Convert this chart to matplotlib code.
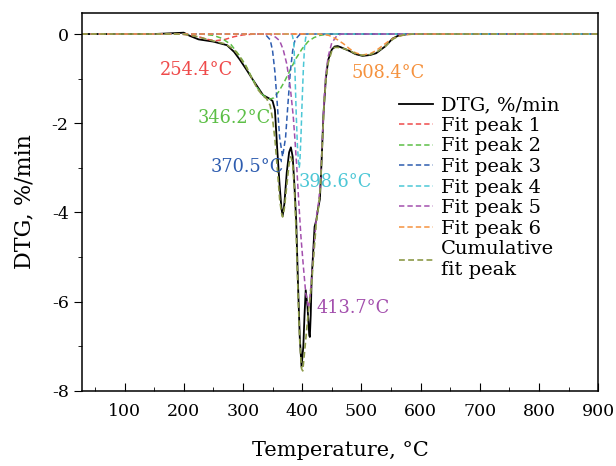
import numpy as np
import matplotlib.pyplot as plt
from matplotlib.ticker import MultipleLocator

plt.rcParams['font.family'] = ['DejaVu Serif']
plt.rcParams['axes.unicode_minus'] = False

# DTG curve (temperature, %/min)
dtg_t = [28, 100, 150, 185, 200, 210, 225, 250, 273, 285, 295, 306, 317, 334, 345, 350,
         354, 358, 362, 365, 367, 370, 374, 378, 381, 384, 387, 390, 393, 396, 399, 402,
         404, 406, 409, 412, 413, 414.5, 416, 419, 421, 424, 427, 430, 433, 436, 440, 444,
         450, 455, 460, 466, 480, 490, 502, 515, 525, 540, 553, 562, 570, 580, 900]
dtg_y = [0, 0, 0, 0.02, 0.03, -0.04, -0.12, -0.17, -0.25, -0.4, -0.58, -0.8, -1.03, -1.37, -1.45, -1.5,
         -1.7, -2.6, -3.4, -3.9, -4.08, -3.8, -3.1, -2.65, -2.54, -2.75, -3.4, -4.2, -5.6, -6.8, -7.46, -7.0,
         -6.3, -5.74, -6.1, -6.75, -6.79, -6.3, -5.5, -4.8, -4.32, -4.17, -3.9, -3.7, -2.8, -1.8, -1.0, -0.58,
         -0.35, -0.28, -0.27, -0.3, -0.38, -0.45, -0.49, -0.47, -0.43, -0.28, -0.1, -0.04, -0.02, 0, 0]

# fitted peaks
p1_t = [28, 190, 210, 225, 240, 254, 270, 285, 300, 320, 900]
p1_y = [0, 0, -0.02, -0.06, -0.12, -0.15, -0.12, -0.06, -0.02, 0, 0]

p2_t = [28, 230, 250, 265, 280, 295, 305, 317, 325, 334, 340, 346, 352, 360, 370, 380,
        390, 400, 410, 420, 430, 445, 900]
p2_y = [0, 0, -0.03, -0.1, -0.24, -0.5, -0.71, -1.03, -1.22, -1.37, -1.43, -1.46, -1.43, -1.3, -1.07, -0.8,
        -0.54, -0.33, -0.17, -0.08, -0.03, 0, 0]

p3_t = [28, 330, 338, 346, 350, 354, 358, 362, 367, 372, 376, 380, 384, 388, 396, 405, 900]
p3_y = [0, 0, -0.01, -0.13, -0.37, -0.85, -1.57, -2.32, -2.75, -2.32, -1.57, -0.85, -0.37, -0.13, -0.01, 0, 0]

p4_t = [28, 383, 386, 388, 390, 392, 394, 395, 396, 398, 400, 402, 404, 406, 409, 900]
p4_y = [0, 0, -0.2, -0.9, -1.8, -2.5, -2.9, -3.0, -2.9, -2.3, -1.5, -0.8, -0.3, -0.08, 0, 0]

p5_t = [28, 345, 355, 362, 368, 374, 380, 385, 388, 391, 394, 398, 402, 406, 411, 416,
        420, 424, 428, 431, 434, 437, 440, 444, 450, 458, 466, 900]
p5_y = [0, 0, -0.07, -0.15, -0.35, -0.67, -1.2, -1.85, -2.4, -3.0, -3.7, -4.55, -5.2, -5.8, -6.15, -5.5,
        -4.8, -4.1, -3.75, -3.3, -2.4, -1.5, -0.9, -0.5, -0.2, -0.05, 0, 0]

p6_t = [28, 430, 445, 450, 460, 470, 480, 490, 502, 515, 525, 535, 545, 555, 565, 580, 590, 900]
p6_y = [0, 0, -0.03, -0.06, -0.13, -0.22, -0.33, -0.42, -0.47, -0.44, -0.37, -0.27, -0.17, -0.09, -0.04, -0.01, 0, 0]

cum_t = [28, 180, 200, 220, 240, 254, 270, 285, 295, 306, 317, 325, 334, 340, 346, 350,
         354, 358, 362, 365, 367, 370, 374, 378, 381, 384, 387, 390, 393, 396, 399, 401,
         405, 410, 416, 420, 424, 428, 431, 434, 437, 440, 444, 450, 455, 460, 466, 480,
         490, 502, 515, 525, 540, 553, 562, 575, 590, 900]
cum_y = [0, 0, -0.005, -0.05, -0.12, -0.17, -0.22, -0.35, -0.52, -0.75, -1.04, -1.24, -1.39, -1.45, -1.6, -1.9,
         -2.35, -3.0, -3.7, -4.0, -4.1, -3.9, -3.4, -2.9, -2.75, -2.9, -3.5, -4.5, -5.8, -6.9, -7.5, -7.55,
         -7.0, -6.3, -5.6, -4.9, -4.2, -3.85, -3.4, -2.5, -1.6, -1.05, -0.65, -0.38, -0.3, -0.3, -0.31, -0.37,
         -0.44, -0.48, -0.46, -0.41, -0.28, -0.12, -0.05, -0.01, 0, 0]

peak_labels = ['254.4°C', '346.2°C', '370.5°C', '398.6°C', '413.7°C', '508.4°C']
label_x = [221, 286, 307, 456, 486, 546]
label_y = [-0.81, -1.88, -2.97, -3.31, -6.15, -0.88]

colors = ['#ef4a4a', '#5cbf46', '#2d5caf', '#4cc7d6', '#a34fad', '#f5923e']
cum_color = '#8c9a48'

fig = plt.figure(figsize=(6.16, 4.66), dpi=100)
ax = fig.add_axes([0.133, 0.161, 0.838, 0.811])

dash = (0, (3.5, 2))
ax.plot(dtg_t, dtg_y, color='black', lw=1.3, label='DTG, %/min')
peaks = [(p1_t, p1_y), (p2_t, p2_y), (p3_t, p3_y), (p4_t, p4_y), (p5_t, p5_y), (p6_t, p6_y)]
for i, (t, y) in enumerate(peaks):
    ax.plot(t, y, color=colors[i], lw=1.1, ls=dash, label='Fit peak %d' % (i + 1))
ax.plot(cum_t, cum_y, color=cum_color, lw=1.2, ls=dash, label='Cumulative\nfit peak')

for txt, x, y, c in zip(peak_labels, label_x, label_y, colors):
    ax.text(x, y, txt, color=c, fontsize=12.8, ha='center', va='center')

ax.set_xlim(28, 900)
ax.set_ylim(-8, 0.47)
ax.xaxis.set_major_locator(MultipleLocator(100))
ax.xaxis.set_minor_locator(MultipleLocator(50))
ax.yaxis.set_major_locator(MultipleLocator(2))
ax.yaxis.set_minor_locator(MultipleLocator(1))
ax.tick_params(axis='x', which='both', direction='in', top=False, labelsize=12.5, pad=9)
ax.tick_params(axis='x', which='major', length=6)
ax.tick_params(axis='x', which='minor', length=3)
ax.tick_params(axis='y', which='both', direction='out', right=False, labelsize=12.5)
ax.tick_params(axis='y', which='major', length=6)
ax.tick_params(axis='y', which='minor', length=3)
for s in ax.spines.values():
    s.set_linewidth(1.1)

ax.set_xlabel('Temperature, °C', fontsize=15, labelpad=15)
ax.set_ylabel('DTG, %/min', fontsize=16, labelpad=12)

ax.legend(loc='upper left', bbox_to_anchor=(0.6, 0.80), frameon=False, fontsize=14,
          handlelength=1.75, handletextpad=0.4, labelspacing=0.13, borderaxespad=0)

plt.savefig('out.png', dpi=100)
